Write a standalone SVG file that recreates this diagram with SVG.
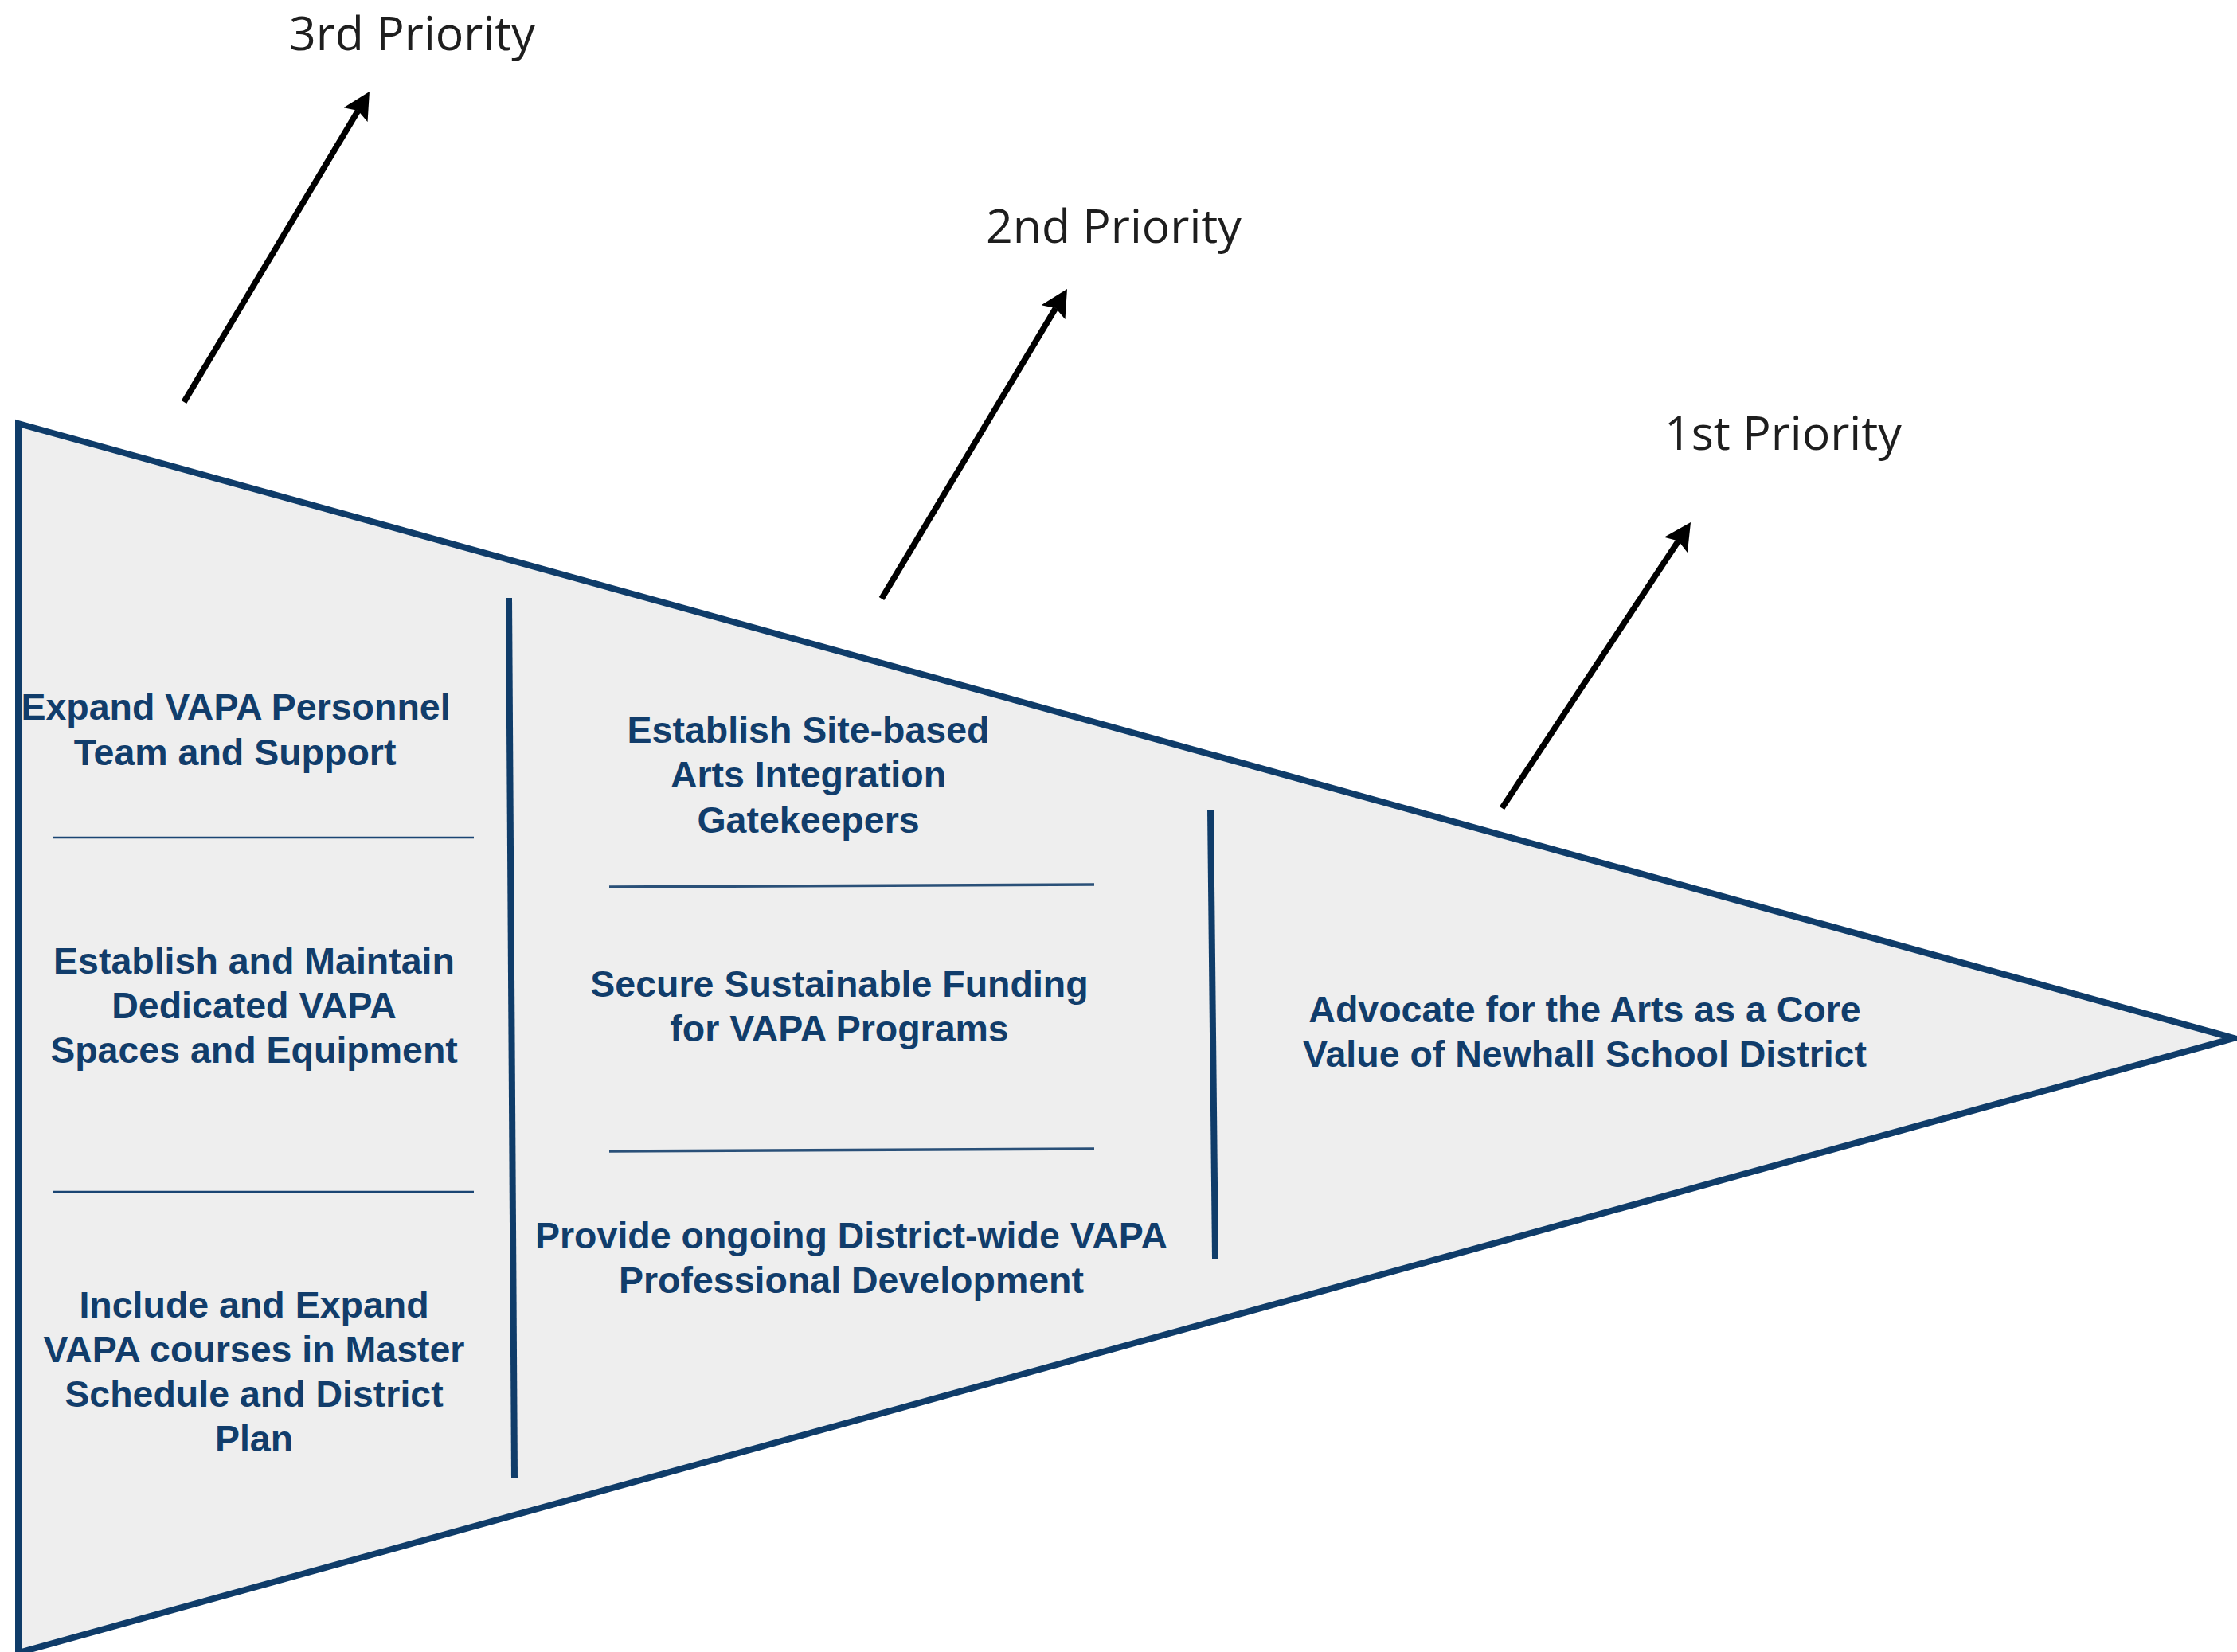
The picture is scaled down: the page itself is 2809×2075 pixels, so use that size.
<svg xmlns="http://www.w3.org/2000/svg" width="2809" height="2075" viewBox="0 0 2809 2075">
  <style>
    .bg { fill: #ffffff; }
    .pennant { fill: #eeeeee; stroke: #0f3c69; stroke-width: 8; stroke-linejoin: miter; }
    .divider { stroke: #0f3c69; stroke-width: 8; fill: none; }
    .sep { stroke: #1a4573; stroke-width: 2.5; fill: none; }
    .sep2 { stroke: #2a5078; stroke-width: 3.5; fill: none; }
    .item { font-family: "Liberation Sans", Arial, sans-serif; font-weight: bold; font-size: 46.5px; fill: #113d6b; text-anchor: middle; }
    .prio { font-family: "Open Sans", "Noto Sans", sans-serif; font-size: 59px; fill: #1e1e1e; }
    .arrow { stroke: #000000; stroke-width: 7.5; fill: none; }
  </style>
  <defs>
    <marker id="head" markerUnits="userSpaceOnUse" viewBox="0 0 34 36" markerWidth="34" markerHeight="36" refX="6" refY="18" orient="auto">
      <path d="M0,0.5 L34,18 L0,35.5 L6,18 Z" fill="#000000"/>
    </marker>
  </defs>
  <rect class="bg" x="0" y="0" width="2809" height="2075"/>

  <g id="pennant">
    <polygon class="pennant" points="23,532 2805,1304 23,2076"/>
    <line class="divider" x1="639" y1="751" x2="646" y2="1856"/>
    <line class="divider" x1="1520" y1="1017" x2="1526" y2="1581"/>
    <line class="sep" x1="67" y1="1052" x2="595" y2="1052"/>
    <line class="sep" x1="67" y1="1497" x2="595" y2="1497"/>
    <line class="sep2" x1="765" y1="1114" x2="1374" y2="1111"/>
    <line class="sep2" x1="765" y1="1446" x2="1374" y2="1443"/>
  </g>

  <g id="node-personnel">
    <text class="item" x="296" y="904">Expand VAPA Personnel</text>
    <text class="item" x="295" y="961">Team and Support</text>
  </g>
  <g id="node-spaces">
    <text class="item" x="319" y="1223">Establish and Maintain</text>
    <text class="item" x="319" y="1279">Dedicated VAPA</text>
    <text class="item" x="319" y="1335">Spaces and Equipment</text>
  </g>
  <g id="node-courses">
    <text class="item" x="319" y="1655">Include and Expand</text>
    <text class="item" x="319" y="1711">VAPA courses in Master</text>
    <text class="item" x="319" y="1767">Schedule and District</text>
    <text class="item" x="319" y="1823">Plan</text>
  </g>
  <g id="node-gatekeepers">
    <text class="item" x="1015" y="933">Establish Site-based</text>
    <text class="item" x="1015" y="989">Arts Integration</text>
    <text class="item" x="1015" y="1046">Gatekeepers</text>
  </g>
  <g id="node-funding">
    <text class="item" x="1054" y="1252">Secure Sustainable Funding</text>
    <text class="item" x="1054" y="1308">for VAPA Programs</text>
  </g>
  <g id="node-pd">
    <text class="item" x="1069" y="1568">Provide ongoing District-wide VAPA</text>
    <text class="item" x="1069" y="1624">Professional Development</text>
  </g>
  <g id="node-advocate">
    <text class="item" x="1990" y="1284">Advocate for the Arts as a Core</text>
    <text class="item" x="1990" y="1340">Value of Newhall School District</text>
  </g>

  <g id="label-3rd"><text class="prio" x="363" y="63">3rd Priority</text></g>
  <g id="label-2nd"><text class="prio" x="1238" y="305">2nd Priority</text></g>
  <g id="label-1st"><text class="prio" x="2090" y="565">1st Priority</text></g>

  <g id="connectors">
    <line class="arrow" x1="231" y1="505" x2="449.6" y2="139" marker-end="url(#head)"/>
    <line class="arrow" x1="1107" y1="752" x2="1325.6" y2="387" marker-end="url(#head)"/>
    <line class="arrow" x1="1886" y1="1015" x2="2107.6" y2="679.4" marker-end="url(#head)"/>
  </g>
</svg>
